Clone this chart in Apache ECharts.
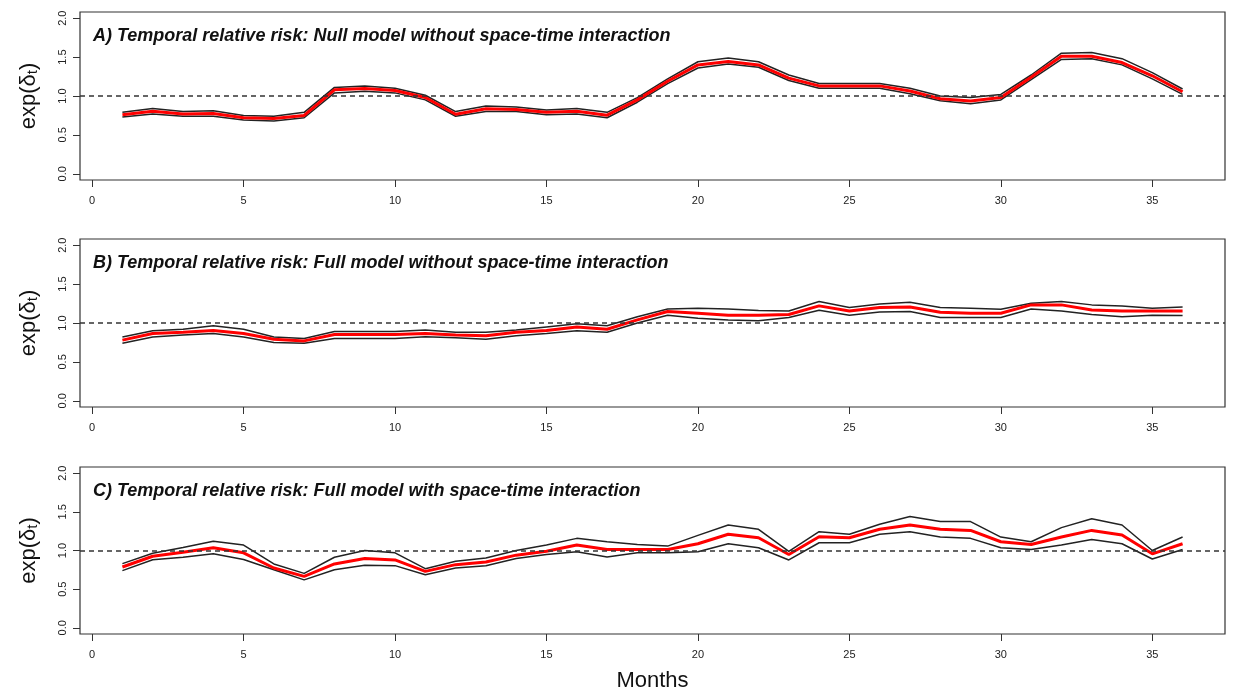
<!DOCTYPE html>
<html>
<head>
<meta charset="utf-8">
<script src="https://cdn.jsdelivr.net/npm/echarts@6/dist/echarts.min.js"></script>
<style>
  html, body { margin: 0; padding: 0; background: #fff; }
  #main { width: 1233px; height: 693px; }
</style>
</head>
<body>
<div id="main"></div>
<script>
const months = [1, 2, 3, 4, 5, 6, 7, 8, 9, 10, 11, 12, 13, 14, 15, 16, 17, 18,
  19, 20, 21, 22, 23, 24, 25, 26, 27, 28, 29, 30, 31, 32, 33, 34, 35, 36]
const xTicks = [0, 5, 10, 15, 20, 25, 30, 35]
const yTicks = [0, 0.5, 1, 1.5, 2]

const titles = [
  'A) Temporal relative risk: Null model without space-time interaction',
  'B) Temporal relative risk: Full model without space-time interaction',
  'C) Temporal relative risk: Full model with space-time interaction'
]

// A) null model
const meanA = [0.76, 0.805, 0.77, 0.775, 0.72, 0.71, 0.75, 1.08, 1.095, 1.07, 0.98, 0.766,
  0.835, 0.827, 0.79, 0.805, 0.753, 0.95, 1.19, 1.40, 1.445, 1.40, 1.23, 1.13,
  1.13, 1.13, 1.065, 0.965, 0.935, 0.98, 1.24, 1.51, 1.51, 1.43, 1.26, 1.055]
const upperA = [0.79, 0.84, 0.80, 0.81, 0.75, 0.74, 0.79, 1.11, 1.13, 1.10, 1.01, 0.80,
  0.87, 0.86, 0.82, 0.84, 0.79, 0.98, 1.22, 1.44, 1.49, 1.44, 1.27, 1.16,
  1.16, 1.16, 1.10, 1.00, 0.98, 1.02, 1.27, 1.55, 1.56, 1.48, 1.30, 1.09]
const lowerA = [0.73, 0.77, 0.74, 0.74, 0.69, 0.68, 0.72, 1.04, 1.06, 1.04, 0.95, 0.74,
  0.80, 0.80, 0.76, 0.77, 0.72, 0.92, 1.16, 1.36, 1.41, 1.37, 1.20, 1.10,
  1.10, 1.10, 1.03, 0.94, 0.90, 0.95, 1.21, 1.47, 1.48, 1.40, 1.22, 1.02]

// B) full model without interaction
const meanB = [0.78, 0.866, 0.88, 0.905, 0.866, 0.79, 0.77, 0.853, 0.853, 0.853, 0.866, 0.845,
  0.836, 0.88, 0.905, 0.95, 0.92, 1.04, 1.147, 1.125, 1.10, 1.10, 1.11, 1.22,
  1.155, 1.20, 1.207, 1.138, 1.125, 1.125, 1.233, 1.233, 1.168, 1.155, 1.155, 1.155]
const upperB = [0.82, 0.90, 0.92, 0.965, 0.92, 0.82, 0.80, 0.89, 0.89, 0.89, 0.91, 0.88,
  0.88, 0.91, 0.95, 0.99, 0.965, 1.08, 1.18, 1.19, 1.18, 1.16, 1.155, 1.276,
  1.20, 1.245, 1.267, 1.20, 1.19, 1.177, 1.254, 1.276, 1.233, 1.22, 1.19, 1.207]
const lowerB = [0.74, 0.82, 0.845, 0.866, 0.82, 0.75, 0.74, 0.80, 0.80, 0.80, 0.823, 0.81,
  0.79, 0.836, 0.866, 0.90, 0.88, 1.00, 1.10, 1.06, 1.04, 1.03, 1.07, 1.164,
  1.10, 1.14, 1.147, 1.07, 1.07, 1.07, 1.18, 1.155, 1.11, 1.08, 1.10, 1.095]

// C) full model with interaction
const meanC = [0.787, 0.926, 0.978, 1.035, 0.97, 0.774, 0.665, 0.826, 0.896, 0.878, 0.73, 0.817,
  0.852, 0.94, 0.99, 1.07, 1.013, 1.013, 1.013, 1.087, 1.21, 1.165, 0.948, 1.178,
  1.165, 1.274, 1.33, 1.274, 1.26, 1.113, 1.078, 1.174, 1.26, 1.20, 0.957, 1.087]
const upperC = [0.83, 0.965, 1.04, 1.12, 1.07, 0.826, 0.704, 0.913, 1.0, 0.97, 0.765, 0.86,
  0.904, 1.0, 1.07, 1.157, 1.113, 1.078, 1.057, 1.196, 1.33, 1.274, 0.99, 1.243,
  1.21, 1.34, 1.44, 1.374, 1.374, 1.174, 1.113, 1.296, 1.41, 1.33, 1.0, 1.174]
const lowerC = [0.74, 0.88, 0.913, 0.957, 0.883, 0.75, 0.62, 0.75, 0.81, 0.804, 0.687, 0.774,
  0.804, 0.896, 0.948, 0.983, 0.917, 0.97, 0.97, 0.983, 1.087, 1.035, 0.878, 1.10,
  1.10, 1.21, 1.243, 1.174, 1.157, 1.035, 1.013, 1.07, 1.143, 1.087, 0.89, 1.013]

const panels = [
  { mean: meanA, upper: upperA, lower: lowerA, top: 12, height: 168 },
  { mean: meanB, upper: upperB, lower: lowerB, top: 239, height: 168 },
  { mean: meanC, upper: upperC, lower: lowerC, top: 467, height: 167 }
]

const font = 'Liberation Sans, Arial, sans-serif'
const pair = (arr) => months.map((m, i) => [m, arr[i]])

const grids = []
const xAxes = []
const yAxes = []
const series = []
const titleOpts = []

panels.forEach((p, k) => {
  grids.push({
    left: 80, right: 8, top: p.top, height: p.height,
    show: true, borderColor: '#333', borderWidth: 1.2, backgroundColor: '#fff'
  })
  xAxes.push({
    type: 'value', gridIndex: k, min: -0.4, max: 37.4,
    axisLine: { show: false, onZero: false },
    axisTick: { show: true, length: 7, customValues: xTicks, lineStyle: { color: '#333' } },
    axisLabel: { customValues: xTicks, margin: 15, fontSize: 11, color: '#222', fontFamily: font },
    splitLine: { show: false },
    name: k === 2 ? 'Months' : '',
    nameLocation: 'middle', nameGap: 36,
    nameTextStyle: { fontSize: 22, color: '#111', fontFamily: font }
  })
  yAxes.push({
    type: 'value', gridIndex: k, min: -0.08, max: 2.08,
    axisLine: { show: false, onZero: false },
    axisTick: { show: true, length: 7, customValues: yTicks, lineStyle: { color: '#333' } },
    axisLabel: {
      customValues: yTicks, rotate: 90, margin: 12, fontSize: 11, color: '#222', fontFamily: font,
      formatter: (v) => v.toFixed(1)
    },
    splitLine: { show: false },
    name: '{a|exp(δ}{b|t}{a|)}',
    nameLocation: 'middle', nameRotate: 90, nameGap: 40,
    nameTextStyle: {
      rich: {
        a: { fontSize: 22, color: '#111', fontFamily: font },
        b: { fontSize: 15, color: '#111', fontFamily: font, verticalAlign: 'bottom', padding: [6, 0, 0, 0] }
      }
    }
  })
  titleOpts.push({
    text: titles[k], left: 93, top: p.top + 15, padding: 0,
    textStyle: { fontSize: 18, fontWeight: 'bold', fontStyle: 'italic', color: '#111', fontFamily: font }
  })
  series.push({
    type: 'line', xAxisIndex: k, yAxisIndex: k, data: pair(p.upper),
    showSymbol: false, silent: true, lineStyle: { color: '#222', width: 1.5 },
    markLine: {
      silent: true, symbol: 'none', label: { show: false },
      lineStyle: { color: '#333', type: [5, 4], width: 1.5 },
      data: [{ yAxis: 1 }]
    }
  })
  series.push({
    type: 'line', xAxisIndex: k, yAxisIndex: k, data: pair(p.lower),
    showSymbol: false, silent: true, lineStyle: { color: '#222', width: 1.5 }
  })
  series.push({
    type: 'line', xAxisIndex: k, yAxisIndex: k, data: pair(p.mean),
    showSymbol: false, silent: true, lineStyle: { color: '#ff0000', width: 3 }
  })
})

const chart = echarts.init(document.getElementById('main'))
chart.setOption({
  animation: false,
  backgroundColor: '#fff',
  title: titleOpts,
  grid: grids,
  xAxis: xAxes,
  yAxis: yAxes,
  series: series
})
</script>
</body>
</html>
